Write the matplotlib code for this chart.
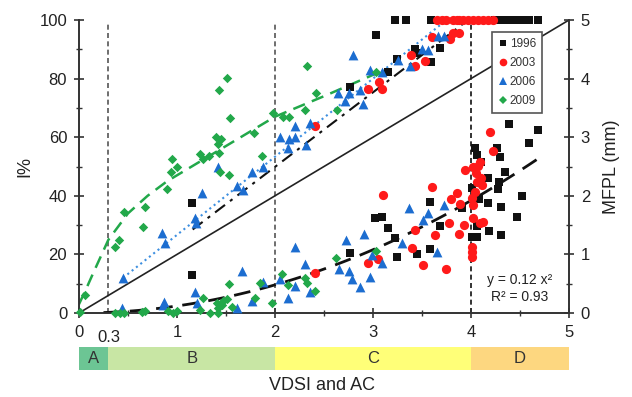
import matplotlib.pyplot as plt
from matplotlib.ticker import MultipleLocator
from matplotlib.lines import Line2D

plt.rcParams['font.family'] = ['Liberation Sans', 'DejaVu Sans']

# ---- data: I% (left axis) ----
i96_x = [1.15, 2.77, 3.03, 3.15, 3.24, 3.43, 3.45, 3.59, 3.68, 3.22, 3.34, 3.59,
         4.24, 4.29, 4.34, 4.39, 4.44, 4.49, 4.54, 4.59, 4.68]
i96_y = [37.5, 77, 95, 82.3, 86.7, 90, 88.7, 85.7, 90.3, 100, 100, 100,
         100, 100, 100, 100, 100, 100, 100, 100, 100]

i03_x = [2.41, 2.95, 3.06, 3.09, 3.39, 3.43, 3.53, 3.60, 3.79, 3.82, 3.88,
         3.65, 3.70, 3.74, 3.82, 3.86, 3.88, 3.92, 3.97, 4.02, 4.07, 4.12, 4.17, 4.22]
i03_y = [63.8, 76.5, 79, 76.5, 88.2, 84.3, 86, 94.2, 93.5, 95.6, 95.6,
         100, 100, 100, 100, 100, 100, 100, 100, 100, 100, 100, 100, 100]

i06_x = [0.45, 0.85, 0.88, 1.18, 1.19, 1.26, 1.42, 1.61, 1.67, 1.77, 1.88, 2.05, 2.13,
         2.14, 2.20, 2.20, 2.32, 2.36, 2.64, 2.71, 2.76, 2.80, 2.87, 2.90, 2.97, 3.09,
         3.26, 3.38, 3.50, 3.56, 3.66, 3.72]
i06_y = [12, 27.3, 23.9, 32.4, 30.7, 41, 49.8, 43.3, 42, 48.1, 49.8, 60.1, 56.3,
         59.4, 63.8, 60.1, 57.3, 64.8, 75, 72.3, 75, 88, 76, 71.3, 83, 82.3,
         86.3, 84.3, 90, 89.6, 94.4, 94.4]

i09_x = [0.06, 0.37, 0.41, 0.46, 0.65, 0.67, 0.90, 0.94, 0.95, 1.00, 1.23, 1.27, 1.33,
         1.40, 1.42, 1.43, 1.43, 1.44, 1.45, 1.51, 1.53, 1.54, 1.79, 1.87, 1.98, 2.08,
         2.14, 2.31, 2.33, 2.42, 2.63, 3.03]
i09_y = [6, 22.5, 24.9, 34.5, 29.4, 36.2, 42.3, 48.1, 52.6, 49.8, 54.3, 52.6, 53.6,
         60.1, 57.7, 76.1, 54.6, 48.1, 59.4, 80.2, 47.1, 66.6, 61.4, 53.6, 68.3, 66.9,
         66.9, 69.3, 84.3, 75.1, 69.3, 82.3]

# ---- data: MFPL in mm (right axis) ----
m96_x = [1.15, 2.77, 3.02, 3.09, 3.15, 3.22, 3.24, 3.45, 3.58, 3.58, 3.68, 3.91, 4.01,
         4.01, 4.06, 4.06, 4.08, 4.17, 4.18, 4.31, 4.31, 4.47, 4.52, 4.39, 4.68, 4.59,
         4.04, 4.06, 4.27, 4.30, 4.10, 4.35, 4.17, 4.29, 4.28]
m96_y = [0.65, 1.02, 1.62, 1.64, 1.45, 1.28, 0.96, 1.01, 1.90, 1.10, 1.48, 1.80, 2.13,
         1.30, 1.30, 1.48, 1.95, 1.88, 1.40, 1.81, 1.33, 1.64, 1.99, 3.22, 3.12, 2.90,
         2.82, 2.70, 2.82, 2.66, 2.58, 2.41, 2.30, 2.24, 2.12]

m03_x = [2.41, 2.95, 3.05, 3.10, 3.40, 3.43, 3.51, 3.60, 3.63, 3.74, 3.78, 3.80, 3.86,
         3.88, 3.89, 3.93, 3.94, 4.01, 4.02, 4.02, 4.01, 4.01, 4.01, 4.06, 4.11, 4.09,
         4.12, 4.19, 4.22, 4.07, 4.05, 4.10, 4.04, 4.09, 4.02]
m03_y = [0.68, 0.85, 0.92, 2.01, 1.11, 1.42, 0.82, 2.15, 1.33, 0.75, 1.54, 1.95, 2.05,
         1.35, 1.86, 1.50, 2.44, 1.96, 1.84, 1.62, 1.13, 1.04, 0.96, 2.24, 2.18, 1.54,
         1.56, 3.09, 2.76, 2.51, 2.39, 2.30, 2.06, 2.58, 2.49]

m06_x = [0.44, 0.86, 0.87, 1.18, 1.20, 1.61, 1.66, 1.77, 1.88, 2.05, 2.13, 2.20, 2.20,
         2.31, 2.36, 2.65, 2.72, 2.76, 2.79, 2.87, 2.91, 2.97, 2.99, 3.09, 3.30, 3.37,
         3.51, 3.56, 3.65, 3.72]
m06_y = [0.08, 0.14, 0.18, 0.35, 0.17, 0.08, 0.71, 0.20, 0.53, 0.58, 0.25, 1.12, 0.46,
         0.84, 0.36, 0.75, 1.25, 0.72, 0.58, 0.44, 1.35, 0.61, 0.99, 0.85, 1.19, 1.79,
         1.59, 1.70, 1.04, 1.84]

m09_x = [0.01, 0.37, 0.42, 0.46, 0.64, 0.67, 0.91, 0.96, 1.00, 1.23, 1.27, 1.34, 1.41,
         1.42, 1.42, 1.46, 1.47, 1.51, 1.53, 1.56, 1.80, 1.85, 1.97, 2.07, 2.13, 2.31,
         2.33, 2.41, 2.62, 3.03]
m09_y = [0.02, 0, 0, 0, 0.02, 0.03, 0.03, 0, 0.03, 0.05, 0.25, 0, 0.17,
         0.09, 0, 0.14, 0.2, 0.24, 0.49, 0.1, 0.26, 0.51, 0.17, 0.66, 0.48, 0.60,
         0.51, 0.37, 0.94, 1.06]

# fit lines
fit09_x = [0, 0.07, 0.15, 0.3, 0.5, 0.7, 0.9, 1.1, 1.5, 2.0, 2.5, 3.05]
fit09_y = [3, 8, 14, 25, 34, 40, 45, 49, 57, 67, 74, 82]
fit06_x = [0.45, 3.75]
fit06_y = [12, 100]
fit96_x = [1.16, 3.97]
fit96_y = [28.5, 100]
one_x = [0, 5]
one_y = [0, 100]
mfpl_coef = 0.12
mfpl_x = [0.25 + 0.05 * k for k in range(90)]

zones = ['A', 'B', 'C', 'D']
zone_lo = [0, 0.3, 2, 4]
zone_hi = [0.3, 2, 4, 5]
zone_col = ['#6cc594', '#c8e6a4', '#ffff78', '#fdd780']

c_blk, c_red, c_blu, c_grn = '#111111', '#ff1a1a', '#1c6dd0', '#22a84a'

fig = plt.figure(figsize=(6.32, 3.97), dpi=100)
ax = fig.add_axes([0.125, 0.2116, 0.7753, 0.738])
ax.set_xlim(0, 5)
ax.set_ylim(0, 100)
ax2 = ax.twinx()
ax2.set_ylim(0, 5)

# reference / fit lines
ax.plot(one_x, one_y, color='#222222', lw=1.2, zorder=2)
ax.plot(fit09_x, fit09_y, color=c_grn, lw=1.8, dashes=(5, 3), zorder=2)
ax.plot(fit06_x, fit06_y, color='#3d8fe0', lw=1.5, ls=':', zorder=2)
ax.plot(fit96_x, fit96_y, color='#111111', lw=1.5, dashes=(6, 3, 1.5, 3), zorder=2)
ax2.plot(mfpl_x, [mfpl_coef * v ** 2 for v in mfpl_x], color='#111111', lw=2,
         dashes=(6, 3.5), zorder=2)
for xv, col in [(0.3, '#555555'), (2, '#555555'), (4, '#111111')]:
    ax.plot([xv, xv], [0, 99], color=col, lw=1.2, dashes=(3, 2), zorder=1)

# points
ax.scatter(i96_x, i96_y, marker='s', s=40, color=c_blk, lw=0, zorder=3, clip_on=False)
ax.scatter(i03_x, i03_y, marker='o', s=44, color=c_red, lw=0, zorder=3, clip_on=False)
ax.scatter(i06_x, i06_y, marker='^', s=50, color=c_blu, lw=0, zorder=3, clip_on=False)
ax.scatter(i09_x, i09_y, marker='D', s=23, color=c_grn, lw=0, zorder=3, clip_on=False)
ax2.scatter(m96_x, m96_y, marker='s', s=40, color=c_blk, lw=0, zorder=3, clip_on=False)
ax2.scatter(m03_x, m03_y, marker='o', s=44, color=c_red, lw=0, zorder=3, clip_on=False)
ax2.scatter(m06_x, m06_y, marker='^', s=50, color=c_blu, lw=0, zorder=3, clip_on=False)
ax2.scatter(m09_x, m09_y, marker='D', s=23, color=c_grn, lw=0, zorder=3, clip_on=False)

# axes styling
for a in (ax, ax2):
    a.spines['top'].set_visible(False)
    for s in ('left', 'right', 'bottom'):
        a.spines[s].set_color('#333333')
        a.spines[s].set_linewidth(1.2)
    a.tick_params(which='major', direction='inout', length=7, width=1.2,
                  colors='#333333', labelsize=12, labelcolor='#222222', pad=5)
    a.tick_params(which='minor', direction='inout', length=4, width=1.0, colors='#333333')
ax.set_xticks([0, 1, 2, 3, 4, 5])
ax.xaxis.set_minor_locator(MultipleLocator(0.5))
ax.yaxis.set_major_locator(MultipleLocator(20))
ax.yaxis.set_minor_locator(MultipleLocator(10))
ax2.yaxis.set_major_locator(MultipleLocator(1))
ax2.yaxis.set_minor_locator(MultipleLocator(0.5))
ax.annotate('0.3', xy=(0.3, 0), xycoords=('data', 'axes fraction'), xytext=(0, -17.5),
            textcoords='offset points', ha='center', va='center', fontsize=12, color='#222222')

ax2.text(4.5, 0.56, 'y = 0.12 x\u00b2', ha='center', va='center', fontsize=10, color='#222222')
ax2.text(4.5, 0.27, 'R\u00b2 = 0.93', ha='center', va='center', fontsize=10, color='#222222')

fig.text(0.04, 0.58, 'I%', rotation=90, ha='center', va='center', fontsize=13, color='#222222')
fig.text(0.968, 0.58, 'MFPL (mm)', rotation=90, ha='center', va='center', fontsize=13,
         color='#222222')
fig.text(0.51, 0.03, 'VDSI and AC', ha='center', va='center', fontsize=13, color='#222222')

handles = [Line2D([], [], ls='none', marker=m, ms=ms, color=c, mew=0)
           for m, ms, c in [('s', 5, c_blk), ('o', 5.5, c_red), ('^', 6, c_blu), ('D', 4.5, c_grn)]]
leg = ax2.legend(handles, ['1996', '2003', '2006', '2009'], loc='upper left',
                 bbox_to_anchor=(0.843, 0.958), fontsize=8.5, frameon=True, fancybox=False,
                 edgecolor='#555555', framealpha=1, handlelength=0.8, handletextpad=0.2,
                 labelspacing=0.6, borderpad=0.5, borderaxespad=0)
leg.get_frame().set_linewidth(1.2)
for t in leg.get_texts():
    t.set_color('#333333')
leg.set_zorder(5)

# zone band
axb = fig.add_axes([0.125, 0.068, 0.7753, 0.058])
axb.barh([0] * len(zones), [h - l for l, h in zip(zone_lo, zone_hi)], left=zone_lo,
         height=1, color=zone_col)
for z, l, h in zip(zones, zone_lo, zone_hi):
    axb.text((l + h) / 2, 0, z, ha='center', va='center', fontsize=12, color='#333333')
axb.set_xlim(0, 5)
axb.set_ylim(-0.5, 0.5)
axb.axis('off')

fig.savefig('out.png', dpi=100)
